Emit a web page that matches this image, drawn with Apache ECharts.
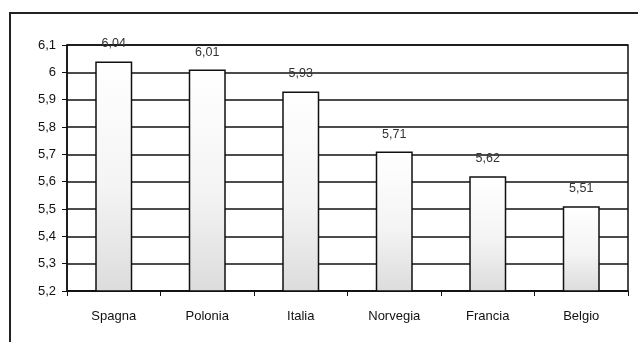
<!DOCTYPE html>
<html>
<head>
<meta charset="utf-8">
<script src="https://cdn.jsdelivr.net/npm/echarts@6/dist/echarts.min.js"></script>
<style>
  html, body { margin: 0; padding: 0; background: #fff; }
  #chart { width: 638px; height: 342px; }
</style>
</head>
<body>
<div id="chart"></div>
<script>
// paesi e valori
var countries = ['Spagna', 'Polonia', 'Italia', 'Norvegia', 'Francia', 'Belgio'];
var values = [6.04, 6.01, 5.93, 5.71, 5.62, 5.51];
var yMin = 5.2, yMax = 6.1, yStep = 0.1;

function comma(v, digits) {
    return parseFloat(v.toFixed(digits)).toString().replace('.', ',');
}

var myChart = echarts.init(document.getElementById('chart'));
var option = {
    animation: false,
    textStyle: { fontFamily: 'Liberation Sans, Arial, sans-serif' },
    graphic: [{
        // cornice esterna
        type: 'rect',
        shape: { x: 10, y: 13, width: 700, height: 400 },
        style: { fill: 'none', stroke: '#222', lineWidth: 2 },
        silent: true
    }],
    grid: {
        left: 67, right: 10, top: 45, bottom: 51,
        show: true, borderColor: '#111', borderWidth: 1.5, backgroundColor: 'transparent'
    },
    xAxis: {
        type: 'category',
        data: countries,
        axisLine: { lineStyle: { color: '#111', width: 1.5 } },
        axisTick: { show: true, length: 5, lineStyle: { color: '#111' } },
        axisLabel: { color: '#111', fontSize: 13, margin: 19 }
    },
    yAxis: {
        type: 'value',
        min: yMin, max: yMax, interval: yStep,
        axisLine: { show: true, lineStyle: { color: '#111', width: 1.5 } },
        axisTick: { show: true, length: 5, lineStyle: { color: '#111' } },
        axisLabel: {
            color: '#111', fontSize: 13, margin: 11,
            formatter: function (v) { return comma(v, 2); }
        },
        splitLine: { show: true, lineStyle: { color: '#111', width: 1.5 } }
    },
    series: [{
        type: 'bar',
        data: values,
        barWidth: 37,
        itemStyle: {
            color: new echarts.graphic.LinearGradient(0, 0, 0, 1, [
                { offset: 0, color: '#ffffff' },
                { offset: 0.55, color: '#f4f4f4' },
                { offset: 1, color: '#dcdcdc' }
            ]),
            borderColor: '#111',
            borderWidth: 1.5
        },
        label: {
            show: true, position: 'top', distance: 11,
            color: '#333', fontSize: 12.5,
            formatter: function (p) { return comma(p.value, 2); }
        }
    }]
};
myChart.setOption(option, true);
</script>
</body>
</html>
